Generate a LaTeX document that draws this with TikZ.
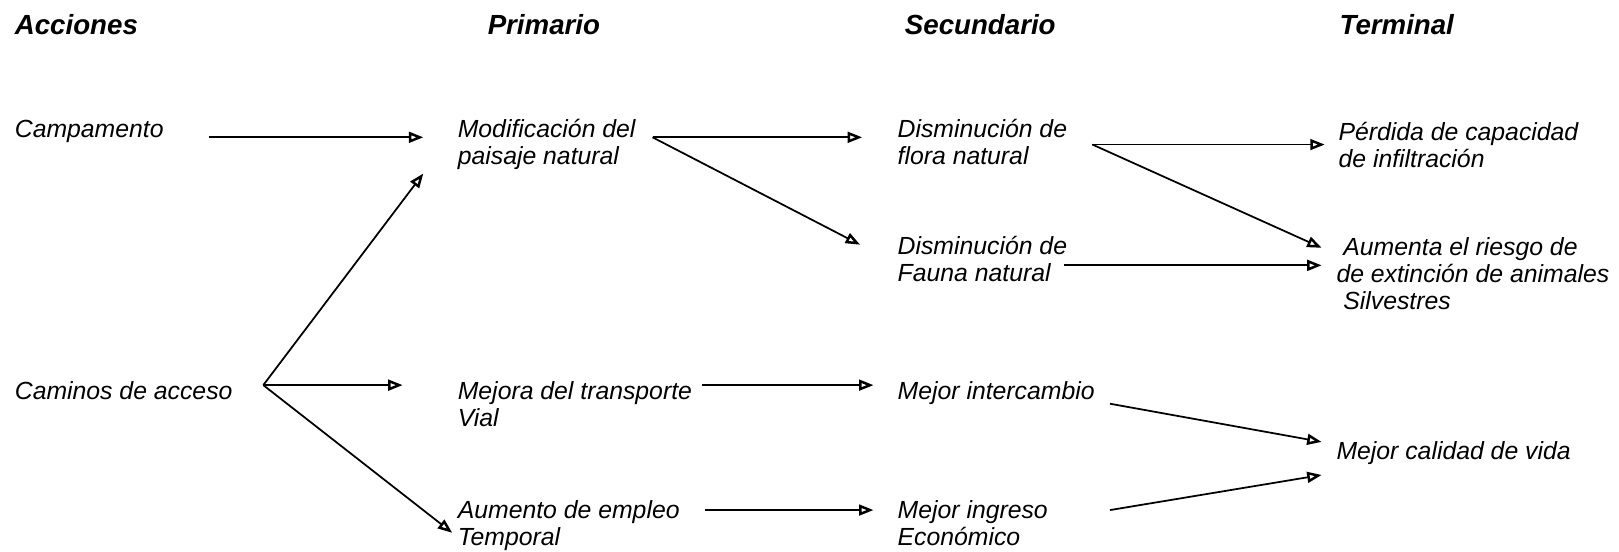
\documentclass[tikz,border=0pt]{standalone}
\usepackage{fontspec}
\setmainfont{Liberation Sans}
\usetikzlibrary{arrows.meta}
\newcommand\mlines[1]{\begin{tabular}[t]{@{}l@{}}#1\end{tabular}}
\begin{document}
\begin{tikzpicture}[x=0.5pt,y=-0.5pt,
  txt/.style={anchor=base west,inner sep=0pt,font=\fontsize{12}{13.1}\selectfont\itshape},
  hdr/.style={anchor=base west,inner sep=0pt,font=\fontsize{13.4}{15}\selectfont\bfseries\itshape},
  arr/.style={line width=0.85pt,-{Triangle[open,length=7pt,width=5.2pt,line width=1.2pt]}}]
\useasboundingbox (0,0) rectangle (1568,534);
% headers
\node[hdr] (h1) at (14,33) {Acciones};
\node[hdr] (h2) at (472,33) {Primario};
\node[hdr] (h3) at (876,33) {Secundario};
\node[hdr] (h4) at (1297,33) {Terminal};
% texts
\node[txt] (camp) at (14,133) {Campamento};
\node[txt] (cam) at (14,387) {Caminos de acceso};
\node[txt] (modif) at (443,133) {\mlines{Modificación del\\paisaje natural}};
\node[txt] (mejora) at (443,387) {\mlines{Mejora del transporte\\Vial}};
\node[txt] (aumento) at (443,502) {\mlines{Aumento de empleo\\Temporal}};
\node[txt] (flora) at (869,133) {\mlines{Disminución de\\flora natural}};
\node[txt] (fauna) at (869,246) {\mlines{Disminución de\\Fauna natural}};
\node[txt] (inter) at (869,387) {Mejor intercambio};
\node[txt] (ingreso) at (869,502) {\mlines{Mejor ingreso\\Económico}};
\node[txt] (perdida) at (1296,136) {\mlines{Pérdida de capacidad\\de infiltración}};
\node[txt] (riesgo) at (1294,247) {\mlines{\ Aumenta el riesgo de\\de extinción de animales\\\ Silvestres}};
\node[txt] (calidad) at (1294,445) {Mejor calidad de vida};
% arrow end points
\coordinate (campR) at (202,133);
\coordinate (modifL) at (410,133);
\coordinate (modifLb) at (410,168);
\coordinate (camR) at (255,373);
\coordinate (mejoraL) at (390,373);
\coordinate (aumentoL) at (438,516);
\coordinate (modifR) at (632,133);
\coordinate (floraL) at (835,133);
\coordinate (faunaL) at (833,237);
\coordinate (mejoraR) at (680,373);
\coordinate (interL) at (846,373);
\coordinate (aumentoR) at (683,494);
\coordinate (ingresoL) at (846,494);
\coordinate (floraR) at (1058,140);
\coordinate (perdidaL) at (1283,140);
\coordinate (riesgoLa) at (1280,240);
\coordinate (faunaR) at (1030,257);
\coordinate (riesgoLb) at (1280,257);
\coordinate (interR) at (1075,391);
\coordinate (calidadLa) at (1280,428);
\coordinate (ingresoR) at (1075,494);
\coordinate (calidadLb) at (1280,460);
% arrows
\draw[arr] (campR) -- (modifL);
\draw[arr] (camR) -- (modifLb);
\draw[arr] (camR) -- (mejoraL);
\draw[arr] (camR) -- (aumentoL);
\draw[arr] (modifR) -- (floraL);
\draw[arr] (modifR) -- (faunaL);
\draw[arr] (mejoraR) -- (interL);
\draw[arr] (aumentoR) -- (ingresoL);
\draw[arr] (floraR) -- (perdidaL);
\draw[arr] (floraR) -- (riesgoLa);
\draw[arr] (faunaR) -- (riesgoLb);
\draw[arr] (interR) -- (calidadLa);
\draw[arr] (ingresoR) -- (calidadLb);
\end{tikzpicture}
\end{document}
